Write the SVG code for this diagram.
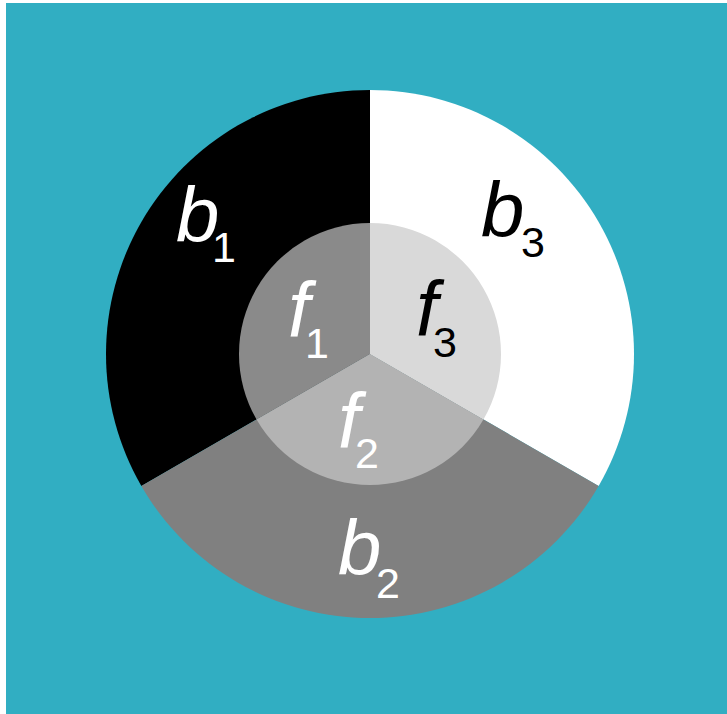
<svg xmlns="http://www.w3.org/2000/svg" width="727" height="714" viewBox="0 0 727 714">
<style>
.lab{font-family:"Liberation Sans",Arial,sans-serif;font-style:italic;font-size:78px}
.sub{font-style:normal;font-size:43px}
.w{fill:#ffffff}
.k{fill:#000000}
</style>
<rect x="0" y="0" width="727" height="714" fill="#ffffff"/>
<rect x="6" y="3" width="721" height="711" fill="#31aec2"/>
<g id="b1">
<path d="M370,354 L370,90 A264,264 0 0 0 141.37,486 Z" fill="#000000"/>
</g>
<g id="b3">
<path d="M370,354 L370,90 A264,264 0 0 1 598.63,486 Z" fill="#ffffff"/>
</g>
<g id="b2">
<path d="M370,354 L141.37,486 A264,264 0 0 0 598.63,486 Z" fill="#808080"/>
</g>
<g id="f1">
<path d="M370,354 L370,223 A131,131 0 0 0 256.55,419.5 Z" fill="#8a8a8a"/>
</g>
<g id="f3">
<path d="M370,354 L370,223 A131,131 0 0 1 483.45,419.5 Z" fill="#d9d9d9"/>
</g>
<g id="f2">
<path d="M370,354 L256.55,419.5 A131,131 0 0 0 483.45,419.5 Z" fill="#b3b3b3"/>
</g>
<g id="labels">
<text class="lab w" x="176" y="242">b<tspan class="sub" x="212" y="262">1</tspan></text>
<text class="lab k" x="481" y="237">b<tspan class="sub" x="521" y="257">3</tspan></text>
<text class="lab w" x="338" y="575">b<tspan class="sub" x="376" y="598">2</tspan></text>
<text class="lab w" x="288" y="337">f<tspan class="sub" x="305" y="358">1</tspan></text>
<text class="lab k" x="416" y="336">f<tspan class="sub" x="433" y="357">3</tspan></text>
<text class="lab w" x="338" y="448">f<tspan class="sub" x="355" y="468">2</tspan></text>
</g>
</svg>
